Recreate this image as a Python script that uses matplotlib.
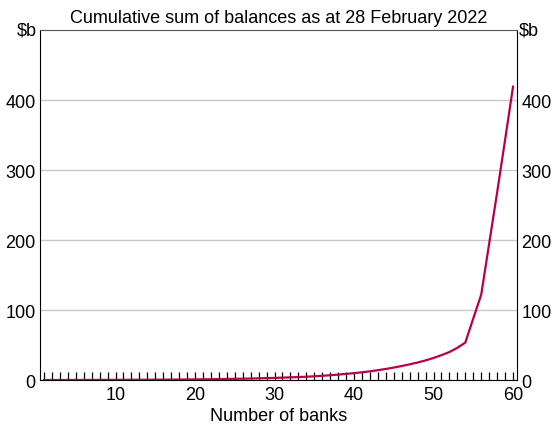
import matplotlib.pyplot as plt
import numpy as np

plt.rcParams['font.family'] = ['Liberation Sans', 'DejaVu Sans']

# cumulative balances ($b), banks sorted from smallest to largest
banks = list(range(1, 61))
cum_balance = [0.0, 0.0, 0.0, 0.1, 0.1, 0.1, 0.1, 0.2, 0.2, 0.2,
               0.3, 0.3, 0.4, 0.4, 0.5, 0.5, 0.6, 0.7, 0.8, 0.9,
               1.0, 1.1, 1.3, 1.5, 1.7, 1.9, 2.1, 2.4, 2.7, 3.0,
               3.4, 3.8, 4.2, 4.7, 5.3, 6.0, 6.8, 7.7, 8.7, 9.8,
               11.0, 12.4, 14.0, 15.8, 17.8, 20.0, 22.4, 25.0, 28.0, 31.5,
               35.5, 40.0, 46.0, 53.5, 88.0, 122.0, 195.0, 268.0, 343.0, 419.0]
x_ticks = [10, 20, 30, 40, 50, 60]
y_ticks = [0, 100, 200, 300, 400]

fig = plt.figure(figsize=(5.57, 4.27), dpi=100)
ax = fig.add_axes([0.0718, 0.1077, 0.8564, 0.8196])

ax.plot(banks, cum_balance, color='#b8004a', lw=1.6, zorder=3)

ax.set_xlim(0.5, 60.5)
ax.set_ylim(0, 500)
ax.set_xticks(x_ticks)
ax.set_xticks(banks, minor=True)
ax.set_yticks(y_ticks)
ax.tick_params(axis='x', which='both', direction='in', length=6, width=0.9,
               labelsize=13, pad=4, top=False)
ax.tick_params(axis='y', which='both', length=0, labelsize=13, pad=3,
               labelright=True, right=False)
ax.grid(axis='y', color='#c8c8c8', lw=1)
ax.set_axisbelow(True)

for s in ['left', 'right', 'bottom']:
    ax.spines[s].set_color('black')
ax.spines['top'].set_color('#555555')

ax.text(-0.006, 500, '$b', transform=ax.get_yaxis_transform(), ha='right',
        va='center', fontsize=13)
ax.text(1.004, 500, '$b', transform=ax.get_yaxis_transform(), ha='left',
        va='center', fontsize=13)

ax.set_xlabel('Number of banks', fontsize=13, labelpad=3)
ax.set_title('Cumulative sum of balances as at 28 February 2022', fontsize=13, pad=6)

fig.savefig('out.png', dpi=100)
